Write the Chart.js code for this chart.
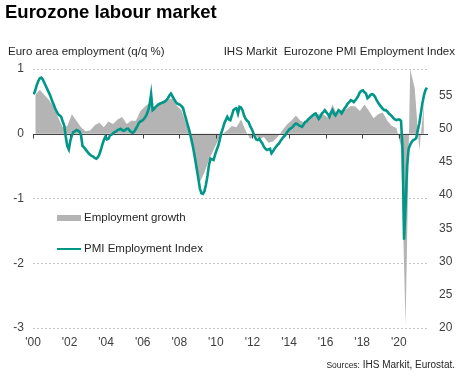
<!DOCTYPE html>
<html>
<head>
<meta charset="utf-8">
<script src="https://cdn.jsdelivr.net/npm/chart.js@4"></script>
<style>
  html, body { margin: 0; padding: 0; background: #fff; }
  #quadro { position: relative; width: 461px; height: 376px; overflow: hidden;
            font-family: "Liberation Sans", Arial, sans-serif; color: #262626; }
  #quadro canvas { position: absolute; left: 0; top: 0; }
  .txt { position: absolute; white-space: nowrap; line-height: 1; }
  #titulo { left: 5px; top: 3px; font-size: 18.5px; font-weight: bold; color: #000; }
  #eixoEsq { left: 8px; top: 46px; font-size: 11.5px; }
  #eixoDir { right: 6px; top: 46px; font-size: 11.5px; }
  .leg { left: 84px; font-size: 11.5px; }
  .amostra { position: absolute; left: 57px; width: 24px; }
  #fonte { right: 6px; top: 360px; font-size: 10px; }
  #fonte span { font-size: 8.5px; }
</style>
</head>
<body>
<div id="quadro">
  <canvas id="grafico" width="461" height="376"></canvas>
  <div class="txt" id="titulo">Eurozone labour market</div>
  <div class="txt" id="eixoEsq">Euro area employment (q/q %)</div>
  <div class="txt" id="eixoDir">IHS Markit&nbsp; Eurozone PMI Employment Index</div>
  <div class="amostra" style="top:215px;height:6px;background:#b4b4b4;"></div>
  <div class="txt leg" style="top:212px;">Employment growth</div>
  <div class="amostra" style="top:247.5px;height:2.5px;background:#009688;"></div>
  <div class="txt leg" style="top:243px;">PMI Employment Index</div>
  <div class="txt" id="fonte"><span>Sources:</span> IHS Markit, Eurostat.</div>
</div>
<script>
// PMI emprego, mensal, jan/2000 a jul/2021
const pmiEmprego = [
  55.2, 55.8, 56.6, 57.2, 57.6, 57.7, 57.4, 56.9, 56.4, 55.9, 55.4, 54.9,
  54.2, 53.7, 53.1, 52.6, 52.2, 52.0, 51.8, 51.1, 50.5, 48.8, 47.4, 46.9,
  48.2, 49.0, 49.5, 49.6, 49.8, 49.7, 49.6, 49.0, 47.4, 47.2, 46.9, 46.6,
  46.3, 46.1, 45.9, 45.8, 45.6, 45.5, 45.7, 46.1, 46.8, 47.6, 48.3, 48.8,
  48.4, 48.5, 49.0, 49.1, 49.3, 49.5, 49.6, 49.8, 49.9, 50.0, 49.8, 49.7,
  49.8, 50.0, 50.0, 49.7, 49.5, 49.4, 49.6, 50.0, 50.4, 50.9, 51.1, 51.2,
  51.4, 51.7, 52.1, 52.7, 53.6, 55.2, 52.8, 53.0, 53.3, 53.5, 53.7, 53.8,
  53.9, 54.0, 54.1, 54.3, 54.6, 55.0, 55.3, 54.9, 54.5, 54.1, 53.8, 53.7,
  53.6, 53.4, 53.1, 52.2, 51.4, 50.6, 49.8, 48.8, 47.8, 46.6, 45.3, 43.9,
  42.5, 41.0, 40.3, 40.2, 40.6, 41.6, 42.9, 44.6, 45.5, 45.4, 45.3, 46.1,
  46.8, 47.4, 48.3, 49.3, 50.0, 50.8, 51.3, 51.8, 51.4, 51.3, 52.0, 52.8,
  53.0, 53.1, 52.3, 53.3, 53.2, 52.8, 52.0, 51.5, 51.2, 51.0, 50.4, 50.0,
  49.4, 48.8, 48.4, 48.3, 48.5, 48.1, 47.8, 47.3, 47.0, 46.8, 46.9, 47.0,
  46.3, 46.6, 47.0, 47.3, 47.6, 47.8, 48.2, 48.5, 48.8, 49.0, 49.4, 49.7,
  50.0, 50.1, 50.3, 50.6, 50.8, 50.7, 50.5, 50.4, 50.3, 50.6, 51.0, 51.1,
  51.4, 51.6, 51.8, 52.0, 52.2, 52.3, 51.9, 51.5, 51.8, 52.3, 52.5, 52.8,
  52.5, 52.2, 51.8, 52.4, 52.8, 52.3, 52.0, 52.4, 52.8, 52.6, 52.3, 52.7,
  53.1, 53.4, 53.8, 54.0, 54.3, 54.2, 54.0, 54.3, 54.6, 55.0, 55.5, 55.7,
  55.8, 55.5, 55.3, 54.6, 54.8, 55.1, 55.2, 55.1, 54.8, 54.3, 53.9, 53.6,
  53.3, 53.0, 52.8, 52.8, 52.6, 52.3, 52.1, 51.9, 51.6, 51.4, 51.3, 51.4,
  51.4, 51.2, 47.0, 33.3, 38.5, 44.5, 47.0, 47.6, 48.0, 48.3, 48.4, 48.6,
  49.8, 50.8, 52.3, 53.8, 55.0, 55.8, 56.2
];

// crescimento do emprego, trimestral (q/q %), 2000T1 a 2021T2
const crescEmprego = [
  0.60, 0.68, 0.60, 0.52,
  0.42, 0.25, 0.10, 0.12,
  0.30, 0.20, 0.10, 0.04,
  0.05, 0.13, 0.17, 0.10,
  0.19, 0.15, 0.22, 0.26,
  0.15, 0.20, 0.20, 0.35,
  0.42, 0.48, 0.40, 0.47,
  0.48, 0.53, 0.55, 0.43,
  0.36, 0.15, -0.05, -0.38,
  -0.75, -0.60, -0.40, -0.25,
  -0.10, 0.00, 0.05, 0.12,
  0.10, 0.22, 0.05, -0.08,
  -0.02, -0.08, -0.05, -0.14,
  -0.12, -0.05, 0.05, 0.14,
  0.20, 0.28, 0.20, 0.17,
  0.24, 0.28, 0.30, 0.30,
  0.25, 0.45, 0.30, 0.37,
  0.38, 0.43, 0.42, 0.35,
  0.45, 0.35, 0.24, 0.30,
  0.33, 0.20, 0.12, 0.09,
  -0.20, -2.95, 1.00, 0.70,
  -0.25, 0.45
];

const anoInicial = 2000;
const anosEixo = [2000, 2002, 2004, 2006, 2008, 2010, 2012, 2014, 2016, 2018, 2020];
const ticksEsq = [-3, -2, -1, 0, 1];
const ticksDir = [20, 25, 30, 35, 40, 45, 50, 55];

const pontosPmi = pmiEmprego.map((v, i) => ({ x: anoInicial + (i + 0.5) / 12, y: v }));
const pontosCresc = crescEmprego.map((v, i) => ({ x: anoInicial + (i + 0.5) / 4, y: v }));

const corTexto = '#404040';
const fonteEixo = { family: '"Liberation Sans", Arial, sans-serif', size: 12 };

// linha do zero com os tracinhos dos anos, desenhada logo depois da area cinza
const linhaZero = {
  id: 'linhaZero',
  afterDatasetDraw(chart, args) {
    if (args.index !== 1) return;
    const { ctx, chartArea, scales } = chart;
    const y0 = Math.round(scales.yL.getPixelForValue(0)) + 0.5;
    ctx.save();
    ctx.strokeStyle = '#404040';
    ctx.lineWidth = 1;
    ctx.beginPath();
    ctx.moveTo(chartArea.left, y0);
    ctx.lineTo(chartArea.right, y0);
    anosEixo.forEach(ano => {
      const x = Math.round(scales.x.getPixelForValue(ano)) + 0.5;
      ctx.moveTo(x, y0);
      ctx.lineTo(x, y0 + 4);
    });
    ctx.stroke();
    ctx.restore();
  }
};

new Chart(document.getElementById('grafico').getContext('2d'), {
  type: 'line',
  data: {
    datasets: [
      {
        label: 'PMI Employment Index',
        data: pontosPmi,
        yAxisID: 'yR',
        borderColor: '#009688',
        borderWidth: 2.6,
        pointRadius: 0,
        tension: 0,
        fill: false,
        order: 1
      },
      {
        label: 'Employment growth',
        data: pontosCresc,
        yAxisID: 'yL',
        borderWidth: 0,
        borderColor: 'rgba(0,0,0,0)',
        backgroundColor: '#b4b4b4',
        pointRadius: 0,
        tension: 0,
        fill: 'origin',
        order: 2
      }
    ]
  },
  options: {
    responsive: false,
    animation: false,
    devicePixelRatio: 1,
    layout: { padding: { top: 69, left: 0, right: 0, bottom: 0 } },
    plugins: {
      legend: { display: false },
      tooltip: { enabled: false }
    },
    scales: {
      x: {
        type: 'linear',
        min: 2000,
        max: 2021.6,
        grid: { display: false, drawTicks: false },
        border: { display: false },
        afterBuildTicks: s => { s.ticks = anosEixo.map(v => ({ value: v })); },
        afterFit: s => { s.height = 48; },
        ticks: {
          padding: 7,
          color: corTexto,
          font: fonteEixo,
          maxRotation: 0,
          autoSkip: false,
          callback: v => "'" + String(v).slice(2)
        }
      },
      yL: {
        position: 'left',
        min: -3,
        max: 1,
        afterBuildTicks: s => { s.ticks = ticksEsq.map(v => ({ value: v })); },
        afterFit: s => { s.width = 33; },
        grid: {
          color: c => c.tick && c.tick.value === 0 ? 'rgba(0,0,0,0)' : '#c4c4c4',
          lineWidth: 1,
          drawTicks: false
        },
        border: { display: false, dash: [2, 2] },
        ticks: { padding: 9, color: corTexto, font: fonteEixo }
      },
      yR: {
        position: 'right',
        min: 20,
        max: 59,
        afterBuildTicks: s => { s.ticks = ticksDir.map(v => ({ value: v })); },
        afterFit: s => { s.width = 33; },
        grid: { display: false, drawTicks: false },
        border: { display: false },
        ticks: { padding: 11, color: corTexto, font: fonteEixo }
      }
    }
  },
  plugins: [linhaZero]
});
</script>
</body>
</html>
